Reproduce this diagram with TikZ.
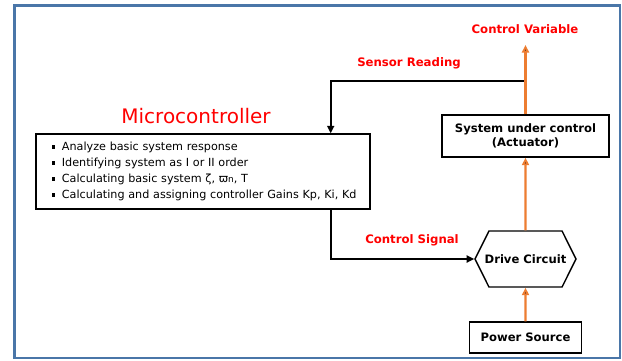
\documentclass[tikz,border=0pt]{standalone}
\usepackage{fontspec}
\setmainfont{DejaVu Sans}
\usepackage{tikz}
\usetikzlibrary{positioning, arrows.meta, shapes.symbols}

\definecolor{frameblue}{HTML}{4A76A8}
\definecolor{powerorange}{HTML}{ED7D31}
\definecolor{labelred}{HTML}{FF0000}

\newcommand{\blt}{\hspace*{8pt}\rule[2pt]{3.4pt}{3.4pt}\hspace{6.5pt}}

\tikzset{
  block/.style={draw, line width=1.4pt, fill=white, font=\bfseries\fontsize{11.6}{14}\selectfont, align=center},
  hexa/.style={draw, line width=1.4pt, signal, signal to=west and east, signal pointer angle=127,
               minimum width=101pt, minimum height=56pt, inner xsep=-5pt, inner ysep=1pt,
               font=\bfseries\fontsize{11.6}{14}\selectfont},
  lbl/.style={text=labelred, font=\bfseries\fontsize{11.7}{14}\selectfont},
  sig/.style={draw, line width=1.8pt, -{Triangle[length=7.5pt,width=7pt]}},
  pw/.style={draw=powerorange, line width=2.3pt, -{Triangle[length=7.5pt,width=7pt]}},
}

\begin{document}
\begin{tikzpicture}[x=1pt,y=-1pt,node distance=123pt,on grid]
    \useasboundingbox (0,0) rectangle (622,360);
    \draw[frameblue, line width=2.7pt] (14.5,5.5) rectangle (620,358);

    % controller and its tasks
    \node[text=labelred, font=\fontsize{20}{24}\selectfont] (mctitle) at (196,116) {Microcontroller};
    \node[draw, line width=1.4pt, minimum width=334pt, minimum height=75pt, text width=318pt,
          inner xsep=8pt, align=left, font=\fontsize{11.2}{16}\selectfont] (mc) at (203,171.5)
          {\blt Analyze basic system response\\
           \blt Identifying system as I or II order\\
           \blt Calculating basic system ζ, ϖ{\fontsize{9}{9}\selectfont n}, T\\
           \blt Calculating and assigning controller Gains Kp, Ki, Kd};

    % plant side
    \node[block, minimum width=167pt, minimum height=42pt] (sys) at (525.5,136) {System under control\\(Actuator)};
    \node[hexa] (drv) [below=123pt of sys] {Drive Circuit};
    \node[block, minimum width=112pt, minimum height=31pt] (pwr) [below=78.5pt of drv] {Power Source};

    \node[lbl] (cv) at (525,29) {Control Variable};
    \node[lbl] (sr) at (409,63) {Sensor Reading};
    \node[lbl] (cs) at (412,240) {Control Signal};

    \coordinate (out) at (525.5,45);
    \coordinate (tap) at (525.5,81);

    \path[sig]
    (tap) -| ([xshift=-40pt]mc.north east)
    ;
    \path[sig]
    ([xshift=-40pt]mc.south east) |- (drv.west)
    ;

    \path[pw]
    (pwr) edge (drv)
    (drv) edge (sys)
    (sys) edge (out)
    ;

\end{tikzpicture}
\end{document}
